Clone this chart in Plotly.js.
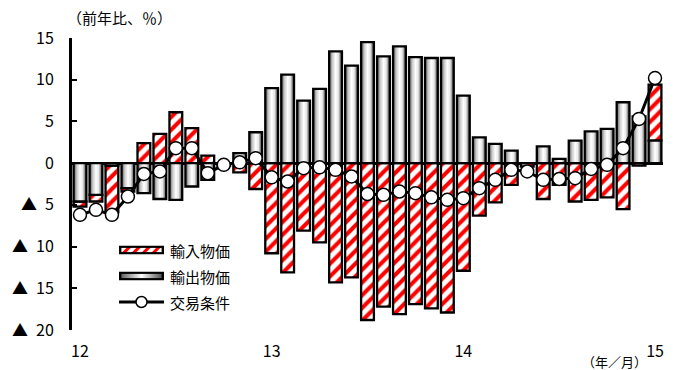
<!DOCTYPE html>
<html>
<head>
<meta charset="utf-8">
<script src="https://cdn.plot.ly/plotly-3.0.1.min.js"></script>
<style>
  html, body { margin: 0; padding: 0; background: #fff; }
  #chart { width: 678px; height: 370px; }
</style>
</head>
<body>
<div id="chart"></div>
<script>
// Monthly series, Jan 2012 .. Jan 2015 (year-on-year, %)
const months = [
  '2012-01','2012-02','2012-03','2012-04','2012-05','2012-06','2012-07','2012-08','2012-09','2012-10','2012-11','2012-12',
  '2013-01','2013-02','2013-03','2013-04','2013-05','2013-06','2013-07','2013-08','2013-09','2013-10','2013-11','2013-12',
  '2014-01','2014-02','2014-03','2014-04','2014-05','2014-06','2014-07','2014-08','2014-09','2014-10','2014-11','2014-12',
  '2015-01'
];
// 輸出物価 (export prices)
const exportPrices = [
  -4.6, -3.8, -0.3, -3.0, -3.6, -4.3, -4.4, -2.8, -2.0, 0.0, 1.2, 3.7,
  9.0, 10.6, 7.5, 8.9, 13.4, 11.7, 14.5, 12.8, 14.0, 12.7, 12.6, 12.6,
  8.1, 3.1, 2.3, 1.5, 0.0, 2.0, 0.5, 2.7, 3.8, 4.1, 7.3, 5.6,
  2.7
];
// 輸入物価 (import prices, sign inverted as a terms-of-trade contribution)
const importPrices = [
  -0.6, -0.8, -5.6, -0.4, 2.4, 3.5, 6.1, 4.2, 0.9, -0.3, -1.1, -3.1,
  -10.8, -13.1, -8.1, -9.5, -14.3, -13.7, -18.8, -17.2, -18.1, -16.9, -17.4, -17.9,
  -12.9, -6.3, -4.7, -2.6, -0.4, -4.3, -2.6, -4.6, -4.4, -4.1, -5.5, -0.3,
  6.7
];
// 交易条件 (terms of trade)
const termsOfTrade = [
  -6.2, -5.6, -6.2, -4.0, -1.3, -1.0, 1.8, 1.8, -1.2, -0.2, 0.1, 0.6,
  -1.7, -2.2, -0.6, -0.5, -0.8, -1.6, -3.7, -3.8, -3.4, -3.6, -4.1, -4.4,
  -4.2, -3.0, -2.0, -0.8, -1.0, -2.0, -1.9, -1.8, -0.7, -0.2, 1.8, 5.3,
  10.2
];
const xTickPos = [0, 12, 24, 36];
const xTickText = ['12', '13', '14', '15'];
const yTickVals = [-20, -15, -10, -5, 0, 5, 10, 15];
const yTickText = ['▲\u200220', '▲\u200215', '▲\u200210', '▲\u20025', '0', '5', '10', '15'];
const legendNames = ['輸入物価', '輸出物価', '交易条件'];

const FONT = '"Noto Sans CJK JP", "Noto Sans", sans-serif';
const BAR_W = 0.8;
const OUTLINE = 2.3;

// plot area in pixels
const M = { l: 72, r: 15, t: 38, b: 40 };
const W = 678, H = 370;
const PW = W - M.l - M.r, PH = H - M.t - M.b;
const px = x => (x - M.l) / PW;
const py = y => (H - M.b - y) / PH;

const idx = months.map((_, i) => i);

// export bars: filled polygons so each can carry a horizontal cylinder gradient
const grayScale = [[0, '#505050'], [0.25, '#c8c8c8'], [0.5, '#ffffff'], [0.72, '#e6e6e6'], [1, '#3c3c3c']];
const exportTraces = exportPrices.map((v, i) => ({
  type: 'scatter',
  mode: 'lines',
  x: [i - BAR_W / 2, i - BAR_W / 2, i + BAR_W / 2, i + BAR_W / 2, i - BAR_W / 2],
  y: [0, v, v, 0, 0],
  fill: 'toself',
  fillcolor: '#cccccc',
  fillgradient: { type: 'horizontal', colorscale: grayScale },
  line: { color: '#000', width: OUTLINE },
  hoverinfo: 'skip',
  showlegend: false
}));

// import bars stack beyond the export bar when both share a sign
const importBase = importPrices.map((v, i) => (v * exportPrices[i] > 0 ? exportPrices[i] : 0));
const importTrace = {
  type: 'bar',
  x: idx,
  y: importPrices,
  base: importBase,
  width: BAR_W,
  marker: {
    color: '#fff',
    line: { color: '#000', width: OUTLINE },
    pattern: { shape: '/', fgcolor: '#ff0000', bgcolor: '#ffffff', size: 9, solidity: 0.45, fillmode: 'replace' }
  },
  name: legendNames[0],
  showlegend: false
};

const totTrace = {
  type: 'scatter',
  mode: 'lines+markers',
  x: idx,
  y: termsOfTrade,
  line: { color: '#000', width: 3 },
  marker: { symbol: 'circle', size: 13, color: '#fff', line: { color: '#000', width: 1.5 } },
  name: legendNames[2],
  showlegend: false
};

// legend swatches
const hatchSvg = "<svg xmlns='http://www.w3.org/2000/svg' width='45' height='9'>" +
  "<defs><pattern id='p' width='7' height='7' patternUnits='userSpaceOnUse' patternTransform='rotate(45)'>" +
  "<rect width='7' height='7' fill='white'/><rect width='3' height='7' fill='red'/></pattern></defs>" +
  "<rect x='1.2' y='1.2' width='42.6' height='6.6' fill='url(#p)' stroke='black' stroke-width='2.4'/></svg>";
const gradSvg = "<svg xmlns='http://www.w3.org/2000/svg' width='45' height='9'>" +
  "<defs><linearGradient id='g' x1='0' x2='1' y1='0' y2='0'>" +
  "<stop offset='0' stop-color='#5a5a5a'/><stop offset='0.5' stop-color='#ffffff'/><stop offset='1' stop-color='#4a4a4a'/>" +
  "</linearGradient></defs>" +
  "<rect x='1.2' y='1.2' width='42.6' height='6.6' fill='url(#g)' stroke='black' stroke-width='2.4'/></svg>";
const svgUri = s => 'data:image/svg+xml;charset=utf-8,' + encodeURIComponent(s);

const legendRows = [250, 276, 302];
const swatchX0 = 119, swatchX1 = 164, textX = 168;

const layout = {
  width: W, height: H,
  margin: M,
  paper_bgcolor: '#fff',
  plot_bgcolor: '#fff',
  showlegend: false,
  font: { family: FONT, size: 16, color: '#000' },
  xaxis: {
    type: 'linear',
    range: [-0.5, months.length - 0.5],
    showgrid: false, zeroline: false, showline: false,
    ticks: '',
    tickmode: 'array', tickvals: xTickPos, ticktext: xTickText,
    tickfont: { family: FONT, size: 16, color: '#000' },
    ticklabelstandoff: 10,
    fixedrange: true
  },
  yaxis: {
    range: [-20, 15],
    showgrid: false,
    zeroline: true, zerolinecolor: '#000', zerolinewidth: 3,
    showline: true, linecolor: '#000', linewidth: 3,
    ticks: 'inside', ticklen: 5, tickwidth: 2, tickcolor: '#000',
    tickmode: 'array', tickvals: yTickVals, ticktext: yTickText,
    tickfont: { family: FONT, size: 16, color: '#000' },
    ticklabelstandoff: 12,
    fixedrange: true
  },
  annotations: [
    { text: '（前年比、％）', xref: 'paper', yref: 'paper', x: px(119), y: py(17),
      xanchor: 'center', yanchor: 'middle', showarrow: false, font: { family: FONT, size: 15, color: '#000' } },
    { text: '（年／月）', xref: 'paper', yref: 'paper', x: px(614), y: py(361),
      xanchor: 'center', yanchor: 'middle', showarrow: false, font: { family: FONT, size: 13, color: '#000' } }
  ].concat(legendNames.map((n, k) => ({
    text: n, xref: 'paper', yref: 'paper', x: px(textX), y: py(legendRows[k]),
    xanchor: 'left', yanchor: 'middle', showarrow: false, font: { family: FONT, size: 15, color: '#000' }
  }))),
  images: [
    { source: svgUri(hatchSvg), xref: 'paper', yref: 'paper', x: px(swatchX0), y: py(legendRows[0] - 4.5),
      sizex: (swatchX1 - swatchX0) / PW, sizey: 9 / PH, sizing: 'stretch', xanchor: 'left', yanchor: 'top', layer: 'above' },
    { source: svgUri(gradSvg), xref: 'paper', yref: 'paper', x: px(swatchX0), y: py(legendRows[1] - 4.5),
      sizex: (swatchX1 - swatchX0) / PW, sizey: 9 / PH, sizing: 'stretch', xanchor: 'left', yanchor: 'top', layer: 'above' }
  ],
  shapes: [
    { type: 'line', xref: 'paper', yref: 'paper', x0: px(swatchX0), x1: px(swatchX1),
      y0: py(legendRows[2]), y1: py(legendRows[2]), line: { color: '#000', width: 3 }, layer: 'above' },
    { type: 'circle', xref: 'paper', yref: 'paper',
      x0: px(141.5 - 5.5), x1: px(141.5 + 5.5), y0: py(legendRows[2] + 5.5), y1: py(legendRows[2] - 5.5),
      fillcolor: '#fff', line: { color: '#000', width: 1.5 }, layer: 'above' }
  ]
};

Plotly.newPlot('chart', [importTrace].concat(exportTraces, [totTrace]), layout,
  { staticPlot: true, displayModeBar: false });
</script>
</body>
</html>
